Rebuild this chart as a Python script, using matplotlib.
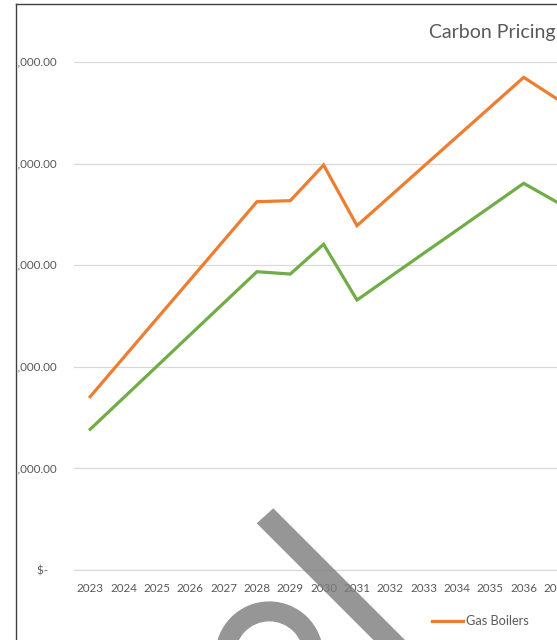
import matplotlib
matplotlib.use("Agg")
import matplotlib.pyplot as plt
from matplotlib.patches import Polygon, Wedge, Rectangle
from matplotlib.lines import Line2D

plt.rcParams['font.family'] = ['Lato', 'DejaVu Sans']

years = list(range(2023, 2038))
year_labels = [str(y) for y in years]
gas_boilers = [1706, 2090, 2474, 2857, 3241, 3625, 3635, 3986, 3389,
               3681, 3973, 4265, 4557, 4849, 4636]
heat_pumps = [1385, 1695, 2005, 2316, 2626, 2936, 2913, 3206, 2657,
              2887, 3117, 3346, 3576, 3806, 3620]
y_ticks = [0, 1000, 2000, 3000, 4000, 5000]
y_tick_labels = ['$-   ', '$ 1,000.00', '$ 2,000.00', '$ 3,000.00',
                 '$ 4,000.00', '$ 5,000.00']
title = "Carbon Pricing"

W, H = 557, 640
fig = plt.figure(figsize=(W / 100, H / 100), dpi=100)
fig.patch.set_facecolor('white')

def px(x, y):
    return (x / 100.0, (H - y) / 100.0)

ax_left, ax_right, ax_top, ax_bottom = 73.5, 573.75, 62, 570
ax = fig.add_axes([ax_left / W, (H - ax_bottom) / H,
                   (ax_right - ax_left) / W, (ax_bottom - ax_top) / H])
ax.set_facecolor('none')

orange = '#ED7D31'
green = '#70AD47'
grey_text = '#595959'

ax.plot(years, gas_boilers, color=orange, lw=2.3, solid_joinstyle='miter',
        label='Gas Boilers', zorder=3)
ax.plot(years, heat_pumps, color=green, lw=2.3, solid_joinstyle='miter',
        label='Heat Pumps', zorder=3)

ax.set_xlim(2022.5, 2037.5)
ax.set_ylim(0, 5000)
ax.set_yticks(y_ticks)
ax.set_yticklabels(y_tick_labels)
ax.set_xticks(years)
ax.set_xticklabels(year_labels)
ax.grid(axis='y', color='#D9D9D9', lw=0.9)
ax.set_axisbelow(True)
for s in ['top', 'right', 'left']:
    ax.spines[s].set_visible(False)
ax.spines['bottom'].set_color('#D9D9D9')
ax.spines['bottom'].set_linewidth(0.9)
ax.tick_params(axis='both', length=0, colors=grey_text, labelsize=8.4)
ax.tick_params(axis='y', pad=12)
ax.tick_params(axis='x', pad=9)

# title
fig.text(429 / W, 1 - 38 / H, title, ha='left', va='baseline',
         fontsize=14, color=grey_text)

# legend (visible entry)
h_gas = Line2D([], [], color=orange, lw=2.3)
leg = fig.legend([h_gas], ['Gas Boilers'], loc='center left',
                 bbox_to_anchor=(432 / W, 1 - 621 / H), frameon=False,
                 fontsize=9.2, labelcolor=grey_text, handlelength=2.4,
                 handletextpad=0.25, borderpad=0, borderaxespad=0)

# frame of cropped screenshot
fig.add_artist(Rectangle(px(0, H), 16 / 100, H / 100, transform=fig.dpi_scale_trans,
                         facecolor='white', edgecolor='none', zorder=20))
fig.add_artist(Rectangle(px(0, 4), W / 100, 4 / 100, transform=fig.dpi_scale_trans,
                         facecolor='white', edgecolor='none', zorder=20))
fig.add_artist(Line2D([16 / 100, 16 / 100], [0, (H - 4) / 100], transform=fig.dpi_scale_trans,
                      color='#404040', lw=1.0, zorder=21))
fig.add_artist(Line2D([16 / 100, W / 100], [(H - 4) / 100, (H - 4) / 100],
                      transform=fig.dpi_scale_trans, color='#404040', lw=1.0, zorder=21))

# grey watermark strokes
wm_color = '#7c7c7c'
band = Polygon([px(256.7, 523.3), px(273.3, 508.3), px(423.3, 658.3), px(406.7, 673.3)],
               closed=True, transform=fig.dpi_scale_trans, facecolor=wm_color,
               edgecolor='none', alpha=0.8, zorder=15)
fig.add_artist(band)
arc = Wedge(px(269.3, 655.4), 0.54, 0, 180, width=0.20,
            transform=fig.dpi_scale_trans, facecolor=wm_color, edgecolor='none',
            alpha=0.8, zorder=15)
fig.add_artist(arc)

fig.savefig('out.png', dpi=100, facecolor='white')
